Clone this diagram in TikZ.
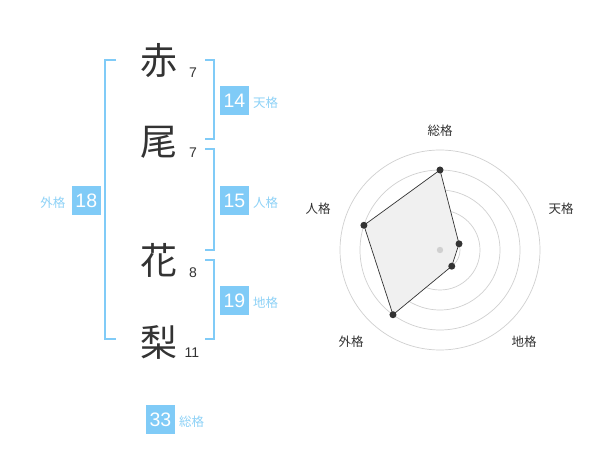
\documentclass[tikz,border=0pt]{standalone}
\usepackage{fontspec}
\usetikzlibrary{calc}
\setmainfont{Liberation Sans}
\newfontfamily\cjk{Noto Sans CJK JP}
\definecolor{kblue}{HTML}{80CBF7}
\definecolor{klabel}{HTML}{8ED2F7}
\definecolor{kdark}{HTML}{333333}
\definecolor{kgrid}{HTML}{D0D0D0}
\definecolor{kfill}{HTML}{F0F0F0}
\tikzset{
  kanji/.style={font=\cjk\fontsize{37}{37}\selectfont, text=kdark, inner sep=0pt},
  strokes/.style={font=\fontsize{14}{14}\selectfont, text=kdark, inner sep=0pt},
  numbox/.style={fill=kblue, text=white, minimum width=29pt, minimum height=29pt, inner sep=0pt, font=\fontsize{19.5}{19.5}\selectfont},
  kaku/.style={font=\cjk\fontsize{12.5}{13}\selectfont, text=klabel, inner sep=0pt},
  bracket/.style={draw=kblue, line width=2pt},
  grid/.style={draw=kgrid, line width=0.7pt},
  axlabel/.style={font=\cjk\fontsize{12.5}{13}\selectfont, text=kdark, inner sep=0pt},
  dot/.style={circle, fill=kdark, minimum size=7pt, inner sep=0pt},
}
\begin{document}
\begin{tikzpicture}[x=1pt,y=1pt]
\useasboundingbox (0,0) rectangle (600,-470);
\fill[white] (0,0) rectangle (600,-470);
% kanji
\node[kanji] (k1) at (159,-61) {赤};
\node[kanji] (k2) at (159,-142) {尾};
\node[kanji] (k3) at (159,-260) {花};
\node[kanji] (k4) at (159,-342) {梨};
\node[strokes] (s1) at (193,-73) {7};
\node[strokes] (s2) at (193,-153) {7};
\node[strokes] (s3) at (193,-273) {8};
\node[strokes] (s4) at (192,-352.5) {11};
% brackets
\draw[bracket] (116,-60) -- (105,-60) -- (105,-339.3) -- (116,-339.3);
\draw[bracket] (205,-60) -- (214.3,-60) -- (214.3,-139.3) -- (205,-139.3);
\draw[bracket] (205,-149.3) -- (214.3,-149.3) -- (214.3,-250) -- (205,-250);
\draw[bracket] (205,-260) -- (214.3,-260) -- (214.3,-339.3) -- (205,-339.3);
% boxes
\node[numbox] (ten) at (234.5,-100.5) {14};
\node[kaku, anchor=west] (tenl) at (253,-103) {天格};
\node[numbox] (jin) at (234.5,-200.5) {15};
\node[kaku, anchor=west] (jinl) at (253,-203) {人格};
\node[numbox] (gai) at (86.3,-200.5) {18};
\node[kaku, anchor=east] (gail) at (65.5,-203) {外格};
\node[numbox] (chi) at (234.5,-300.3) {19};
\node[kaku, anchor=west] (chil) at (253,-303) {地格};
\node[numbox] (sou) at (160.5,-419.5) {33};
\node[kaku, anchor=west] (soul) at (179,-422) {総格};
% radar
\coordinate (c) at (440,-250);
\foreach \r in {20,40,60,80,100} \draw[grid] (c) circle (\r);
\coordinate (p1) at ($(c)+(90:80)$);
\coordinate (p2) at ($(c)+(18:20)$);
\coordinate (p3) at ($(c)+(-54:20)$);
\coordinate (p4) at ($(c)+(-126:80)$);
\coordinate (p5) at ($(c)+(162:80)$);
\draw[fill=kfill, draw=kdark, line width=0.7pt] (p1) -- (p2) -- (p3) -- (p4) -- (p5) -- cycle;
\fill[kgrid] (c) circle (3.2);
\foreach \p in {p1,p2,p3,p4,p5} \node[dot] at (\p) {};
\node[axlabel] (a1) at (440,-131) {総格};
\node[axlabel] (a2) at (561,-209) {天格};
\node[axlabel] (a3) at (524,-342) {地格};
\node[axlabel] (a4) at (351,-342) {外格};
\node[axlabel] (a5) at (318,-209) {人格};
\end{tikzpicture}
\end{document}
